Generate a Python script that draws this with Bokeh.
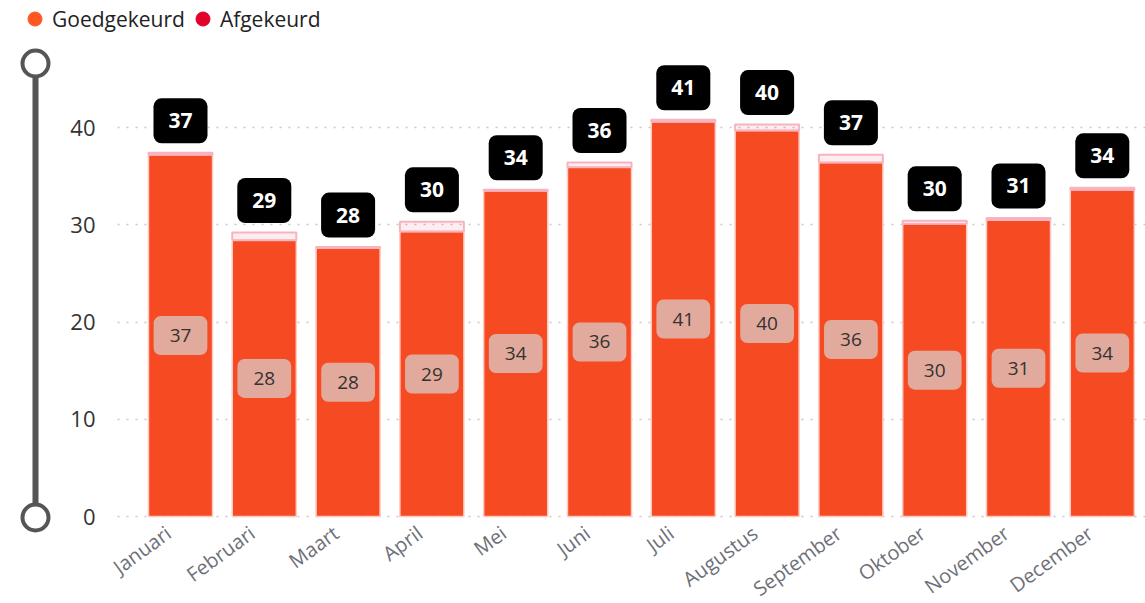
import math
from bokeh.plotting import figure
from bokeh.models import (ColumnDataSource, Legend, LegendItem, BoxAnnotation,
                          FixedTicker, Range1d, LinearAxis, Grid)
from bokeh.core.properties import value
from bokeh.embed import file_html
from bokeh.resources import INLINE

# ---- data -------------------------------------------------------------
months = ["Januari", "Februari", "Maart", "April", "Mei", "Juni", "Juli",
          "Augustus", "September", "Oktober", "November", "December"]
goedgekeurd = [37.2, 28.4, 27.6, 29.3, 33.5, 35.9, 40.6, 39.7, 36.4, 30.1, 30.5, 33.6]
afgekeurd = [0.2, 0.8, 0.1, 1.0, 0.1, 0.5, 0.2, 0.6, 0.8, 0.3, 0.2, 0.2]
y_ticks = [0, 10, 20, 30, 40]
series_names = ["Goedgekeurd", "Afgekeurd"]

# ---- layout / styles (pixels) ----------------------------------------
W, H = 1145, 603
PX_PER_CAT = 83.8      # horizontal pixels per category
X0_PX = 180            # pixel x of first category
PX_PER_UNIT = 9.725    # vertical pixels per value unit
Y0_PX = 516            # pixel y of value 0
YAXIS_PX = 113         # pixel x where the value axis sits
XLABEL_SHIFT_PX = -12  # rotated month labels end a little left of the bar centre
FONT = "Open Sans"
C_GOED = "#F64A22"
C_GOED_LEG = "#FF5722"
C_AFG = "#E3002B"
SL = "#555555"

def rnd(v):
    return str(int(math.floor(v + 0.5)))

xs = list(range(len(months)))
totals = [g + a for g, a in zip(goedgekeurd, afgekeurd)]
src = ColumnDataSource(dict(
    x=xs,
    goed=goedgekeurd,
    afg=afgekeurd,
    total=totals,
    mid=[g / 2 for g in goedgekeurd],
    goed_lbl=[rnd(g) for g in goedgekeurd],
    total_lbl=[rnd(t) for t in totals],
))

x_range = Range1d(-X0_PX / PX_PER_CAT, (W - X0_PX) / PX_PER_CAT)
y_range = Range1d(-(H - Y0_PX) / PX_PER_UNIT, Y0_PX / PX_PER_UNIT)
axis_x = (YAXIS_PX - X0_PX) / PX_PER_CAT

p = figure(width=W, height=H, x_range=x_range, y_range=y_range,
           output_backend="svg", toolbar_location=None,
           x_axis_location=None, y_axis_location=None,
           min_border=0, min_border_left=0, min_border_right=0,
           min_border_top=0, min_border_bottom=0)
p.outline_line_color = None
p.background_fill_color = "white"
p.border_fill_color = "white"
p.grid.visible = False
p.extra_x_ranges = {"px": Range1d(0, W)}
p.extra_y_ranges = {"px": Range1d(H, 0)}

# horizontal dotted grid
ygrid = Grid(dimension=1, ticker=FixedTicker(ticks=y_ticks),
             grid_line_color="#C8C8C8", grid_line_dash="2 7", grid_line_width=1.5)
p.add_layout(ygrid)
# keep the grid from running into the slider area
p.add_layout(BoxAnnotation(left=x_range.start - 5, right=axis_x,
                           bottom=y_range.start - 5, top=y_range.end + 5,
                           fill_color="white", fill_alpha=1, line_color=None,
                           level="underlay"))

# stacked bars
p.vbar_stack(["goed", "afg"], x="x", width=0.764, source=src,
             fill_color=[C_GOED, C_AFG], fill_alpha=[1.0, 0.07],
             line_color=["#FFC9BF", "#F7B3C0"], line_width=[1.5, 2])

# labels inside bars
p.text(x="x", y="mid", text="goed_lbl", source=src,
       text_font=value(FONT), text_font_size="19px", text_color="#333333",
       text_align="center", text_baseline="middle",
       background_fill_color="#E2AA9C", border_radius=7, padding=(16, 13))

# total labels above bars
p.text(x="x", y="total", text="total_lbl", source=src,
       text_font=value(FONT), text_font_style="bold", text_font_size="21px",
       text_color="white", text_align="center", text_baseline="middle",
       y_offset=-32,
       background_fill_color="black", border_radius=8, padding=(15, 15))

# axes (placed at fixed positions inside the canvas)
shift = XLABEL_SHIFT_PX / PX_PER_CAT
label_ticks = [x + shift for x in xs]
xaxis = LinearAxis(fixed_location=0, ticker=FixedTicker(ticks=label_ticks))
xaxis.major_label_overrides = {t: m for t, m in zip(label_ticks, months)}
xaxis.major_label_orientation = math.radians(36)
xaxis.major_label_text_font = FONT
xaxis.major_label_text_font_size = "20px"
xaxis.major_label_text_color = "#6E7079"
xaxis.major_label_standoff = 8
xaxis.axis_line_color = None
xaxis.major_tick_line_color = None
xaxis.minor_tick_line_color = None
p.add_layout(xaxis, "below")

yaxis = LinearAxis(fixed_location=axis_x, ticker=FixedTicker(ticks=y_ticks))
yaxis.major_label_text_font = FONT
yaxis.major_label_text_font_size = "22px"
yaxis.major_label_text_color = "#333333"
yaxis.major_label_standoff = 12
yaxis.axis_line_color = None
yaxis.major_tick_line_color = None
yaxis.minor_tick_line_color = None
p.add_layout(yaxis, "left")

# vertical zoom slider (UI decoration at the left, pixel coordinates)
SLIDER_X, SLIDER_TOP, SLIDER_BOT = 35, 63, 517
p.segment(x0=[SLIDER_X], y0=[SLIDER_TOP], x1=[SLIDER_X], y1=[SLIDER_BOT],
          line_color=SL, line_width=6, x_range_name="px", y_range_name="px")
p.scatter(x=[SLIDER_X, SLIDER_X], y=[SLIDER_TOP, SLIDER_BOT], marker="circle",
          size=26, fill_color="white", line_color=SL, line_width=4,
          x_range_name="px", y_range_name="px")

# legend (marker-only renderers, no visible points)
r1 = p.scatter(x=[math.nan], y=[math.nan], marker="circle", size=14,
               fill_color=C_GOED_LEG, line_color=C_GOED_LEG)
r2 = p.scatter(x=[math.nan], y=[math.nan], marker="circle", size=14,
               fill_color=C_AFG, line_color=C_AFG)
legend = Legend(items=[LegendItem(label=series_names[0], renderers=[r1]),
                       LegendItem(label=series_names[1], renderers=[r2])],
                orientation="horizontal", location=(17, H - 36),
                glyph_width=35, glyph_height=35, label_standoff=0, spacing=0,
                padding=0, margin=0, border_line_color=None,
                background_fill_alpha=0,
                label_text_font=FONT, label_text_font_size="21px",
                label_text_color="#222222")
p.add_layout(legend)

open("out.html", "w").write(file_html(p, INLINE))
